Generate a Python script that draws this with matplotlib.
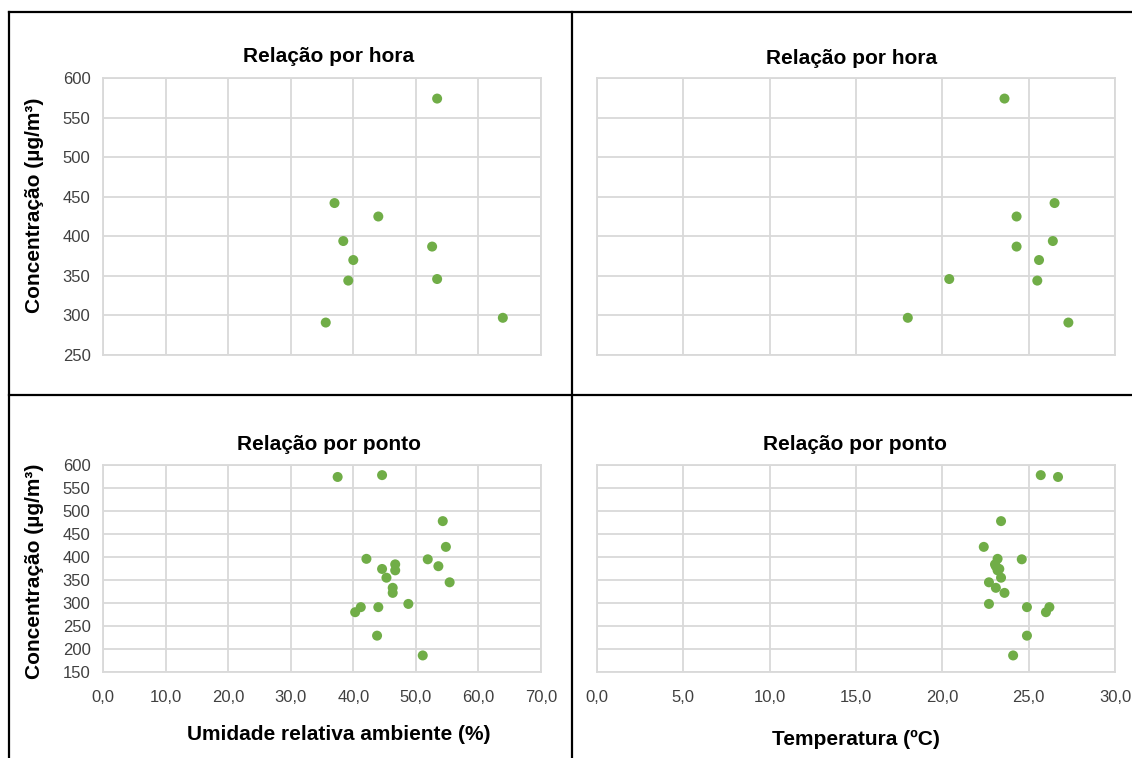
import matplotlib
matplotlib.use("Agg")
import matplotlib.pyplot as plt
from matplotlib.lines import Line2D
from matplotlib.ticker import FuncFormatter

# hourly averages
conc_hora = [574, 442, 425, 394, 387, 370, 344, 346, 291, 297]
umid_hora = [53.4, 37.0, 44.0, 38.4, 52.6, 40.0, 39.2, 53.4, 35.6, 63.9]
temp_hora = [23.6, 26.5, 24.3, 26.4, 24.3, 25.6, 25.5, 20.4, 27.3, 18.0]

# per sampling point
conc_ponto = [578, 574, 478, 422, 396, 395, 384, 380, 374, 371,
              355, 345, 333, 322, 298, 291, 291, 280, 229, 186]
umid_ponto = [44.6, 37.5, 54.3, 54.8, 42.1, 51.9, 46.7, 53.6, 44.6, 46.7,
              45.3, 55.4, 46.3, 46.3, 48.8, 44.0, 41.2, 40.3, 43.8, 51.1]
temp_ponto = [25.7, 26.7, 23.4, 22.4, 23.2, 24.6, 23.05, 23.1, 23.3, 23.2,
              23.4, 22.7, 23.1, 23.6, 22.7, 24.9, 26.2, 26.0, 24.9, 24.1]

umid_ticks = [0, 10, 20, 30, 40, 50, 60, 70]
temp_ticks = [0, 5, 10, 15, 20, 25, 30]
conc_ticks_hora = [250, 300, 350, 400, 450, 500, 550, 600]
conc_ticks_ponto = [150, 200, 250, 300, 350, 400, 450, 500, 550, 600]

plt.rcParams['font.family'] = ['Liberation Sans', 'DejaVu Sans']

W, H = 1132, 758
fig = plt.figure(figsize=(W / 100, H / 100), dpi=100)
fig.patch.set_facecolor('white')


def box(l, t, r, b):
    return [l / W, 1 - b / H, (r - l) / W, (b - t) / H]


def fx(x):
    return x / W


def fy(y):
    return 1 - y / H


green = '#70AD47'
grid = '#D9D9D9'
tick_color = '#404040'
comma = FuncFormatter(lambda v, p: f"{v:.1f}".replace('.', ','))


def style(ax, xt, yt, show_x, show_y):
    ax.set_xticks(xt)
    ax.set_yticks(yt)
    ax.set_xlim(xt[0], xt[-1])
    ax.set_ylim(yt[0], yt[-1])
    ax.grid(True, color=grid, linewidth=1.3)
    ax.set_axisbelow(True)
    for s in ax.spines.values():
        s.set_color(grid)
        s.set_linewidth(1.3)
    ax.tick_params(length=0, labelsize=12, labelcolor=tick_color)
    ax.tick_params(axis='x', pad=13)
    ax.tick_params(axis='y', pad=9)
    ax.xaxis.set_major_formatter(comma)
    if not show_x:
        ax.set_xticklabels([])
    if not show_y:
        ax.set_yticklabels([])


panels = [
    (box(103, 78, 541, 355), umid_hora, conc_hora, umid_ticks, conc_ticks_hora, False, True),
    (box(597, 78, 1115, 355), temp_hora, conc_hora, temp_ticks, conc_ticks_hora, False, False),
    (box(103, 465, 541, 672), umid_ponto, conc_ponto, umid_ticks, conc_ticks_ponto, True, True),
    (box(597, 465, 1115, 672), temp_ponto, conc_ponto, temp_ticks, conc_ticks_ponto, True, False),
]
for rect, x, y, xt, yt, sx, sy in panels:
    ax = fig.add_axes(rect)
    ax.scatter(x, y, s=52, color=green, edgecolors='none', zorder=3, clip_on=False)
    style(ax, xt, yt, sx, sy)

title_kw = dict(fontsize=15, fontweight='bold', ha='center', va='center', color='black')
fig.text(fx(329), fy(57), 'Relação por hora', **title_kw)
fig.text(fx(852), fy(59), 'Relação por hora', **title_kw)
fig.text(fx(329), fy(445), 'Relação por ponto', **title_kw)
fig.text(fx(855), fy(445), 'Relação por ponto', **title_kw)

fig.text(fx(35), fy(205), 'Concentração (µg/m³)', rotation=90, **title_kw)
fig.text(fx(35), fy(571), 'Concentração (µg/m³)', rotation=90, **title_kw)
fig.text(fx(339), fy(735), 'Umidade relativa ambiente (%)', **title_kw)
fig.text(fx(856), fy(739), 'Temperatura (ºC)', **title_kw)

# panel separators
line_kw = dict(color='black', linewidth=1.6, transform=fig.transFigure)
fig.add_artist(Line2D([fx(9), fx(W)], [fy(12), fy(12)], **line_kw))
fig.add_artist(Line2D([fx(9), fx(9)], [fy(12), fy(H)], **line_kw))
fig.add_artist(Line2D([fx(571.5), fx(571.5)], [fy(12), fy(H)], **line_kw))
fig.add_artist(Line2D([fx(9), fx(W)], [fy(395), fy(395)], **line_kw))

fig.savefig('out.png', dpi=100)
